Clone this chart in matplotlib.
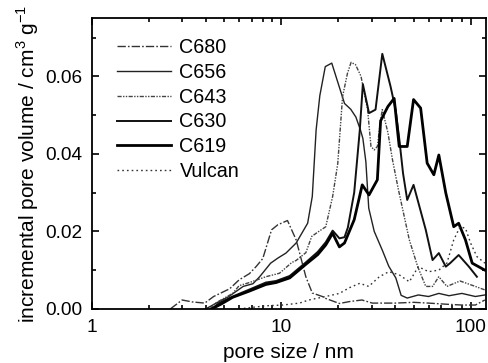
import numpy as np
import matplotlib
matplotlib.use('Agg')
from matplotlib import pyplot as plt
from matplotlib.ticker import MultipleLocator, FixedLocator, FixedFormatter, LogLocator, NullFormatter

# pore size (nm) / incremental pore volume (cm3/g)
c680_x = [2.6, 3.0, 3.4, 3.95, 4.4, 5.35, 6.0, 6.8, 7.4, 8.0, 8.9, 9.6, 10.8, 12.0, 13.5, 14.6, 16.5,
          17.2, 20.3, 23.0, 26.7, 30.3, 40.0, 50.0, 60.0, 75.0, 90.0, 106.0, 119.0]
c680_y = [0.0, 0.0023, 0.0018, 0.0015, 0.0032, 0.0052, 0.0075, 0.0091, 0.011, 0.013, 0.0204, 0.0217,
          0.0228, 0.0178, 0.0083, 0.0041, 0.0032, 0.0027, 0.0014, 0.0019, 0.0023, 0.0015, 0.0015,
          0.0017, 0.0015, 0.0012, 0.001, 0.001, 0.0023]

c656_x = [4.0, 4.7, 5.3, 6.3, 7.1, 7.7, 8.8, 9.6, 10.6, 12.0, 13.8, 14.6, 15.3, 16.0, 17.1, 18.5,
          21.6, 23.3, 24.8, 26.2, 27.0, 28.0, 29.0, 31.0, 34.3, 37.0, 40.3, 43.0, 46.3, 53.0, 60.0,
          68.0, 77.0, 90.0, 106.0, 119.0]
c656_y = [0.0, 0.0019, 0.0032, 0.0058, 0.0065, 0.0083, 0.0118, 0.0131, 0.0144, 0.017, 0.0221, 0.029,
          0.0462, 0.055, 0.0625, 0.0634, 0.053, 0.0515, 0.0495, 0.0462, 0.044, 0.038, 0.026, 0.02,
          0.015, 0.011, 0.008, 0.0035, 0.0028, 0.0036, 0.0032, 0.004, 0.0034, 0.004, 0.0032, 0.0036]

c643_x = [4.2, 4.5, 5.55, 6.0, 6.8, 8.3, 9.8, 11.4, 12.0, 13.5, 14.5, 15.6, 17.2, 18.7, 19.9, 21.1,
          22.4, 23.4, 24.7, 26.4, 27.5, 28.6, 29.8, 31.0, 32.2, 33.5, 34.2, 36.6, 38.7, 41.5, 47.5,
          52.6, 58.0, 63.0, 68.0, 75.0, 88.0, 106.0, 119.0]
c643_y = [0.0, 0.0015, 0.004, 0.006, 0.0068, 0.0083, 0.0092, 0.012, 0.0125, 0.0145, 0.0187, 0.0198,
          0.0212, 0.029, 0.0375, 0.0548, 0.0608, 0.0636, 0.063, 0.06, 0.0555, 0.0514, 0.0419, 0.041,
          0.0419, 0.0488, 0.0514, 0.0455, 0.0385, 0.031, 0.0178, 0.0109, 0.0058, 0.0058, 0.0083,
          0.0058, 0.0072, 0.0058, 0.0049]

c630_x = [4.3, 4.7, 5.55, 6.8, 8.3, 9.4, 11.1, 13.5, 15.6, 17.2, 18.7, 20.3, 21.6, 22.5, 24.3, 26.0,
          27.0, 29.1, 31.5, 34.2, 37.8, 40.2, 42.0, 44.0, 46.3, 50.0, 58.0, 63.0, 68.0, 74.0, 78.0,
          86.5, 98.0, 108.0]
c630_y = [0.0, 0.0015, 0.0032, 0.005, 0.0068, 0.0072, 0.0085, 0.012, 0.0147, 0.0172, 0.0202, 0.0182,
          0.0185, 0.021, 0.03, 0.046, 0.058, 0.0505, 0.0514, 0.0658, 0.0574, 0.0514, 0.044, 0.035,
          0.0281, 0.032, 0.0204, 0.0126, 0.0144, 0.0109, 0.0118, 0.0139, 0.0109, 0.0083]

c619_x = [4.3, 4.8, 5.55, 6.8, 8.3, 9.4, 11.1, 13.5, 15.6, 17.2, 18.7, 20.3, 21.6, 24.3, 26.8, 29.1,
          32.2, 33.5, 36.6, 39.5, 42.0, 46.3, 50.0, 54.5, 59.0, 64.0, 68.0, 74.0, 81.5, 86.5, 94.0,
          102.0, 119.0]
c619_y = [0.0, 0.0012, 0.003, 0.0046, 0.0063, 0.0068, 0.008, 0.0115, 0.014, 0.0165, 0.0195, 0.016,
          0.017, 0.023, 0.032, 0.0294, 0.0333, 0.0485, 0.0522, 0.0543, 0.0419, 0.0419, 0.054, 0.0518,
          0.0376, 0.0346, 0.0397, 0.0299, 0.0212, 0.0221, 0.0178, 0.0118, 0.010]

vulcan_x = [6.0, 8.3, 10.2, 12.5, 14.0, 17.2, 20.3, 23.0, 26.0, 29.0, 33.0, 37.0, 42.0, 47.5, 53.0,
            60.0, 68.0, 75.0, 81.5, 88.0, 94.0, 100.0, 108.0, 119.0]
vulcan_y = [0.0, 0.0008, 0.001, 0.0015, 0.0023, 0.0032, 0.004, 0.0055, 0.0066, 0.0058, 0.0083, 0.0096,
            0.0088, 0.007, 0.0109, 0.0096, 0.01, 0.0118, 0.0178, 0.0212, 0.0208, 0.017, 0.0135, 0.0118]

plt.rcParams['font.family'] = ['Liberation Sans', 'DejaVu Sans']
plt.rcParams['mathtext.fontset'] = 'custom'
plt.rcParams['mathtext.rm'] = 'Liberation Sans'

fig = plt.figure(figsize=(4.88, 3.63), dpi=100)
ax = fig.add_axes([0.188, 0.149, 0.807, 0.801])

ax.plot(c680_x, c680_y, color='#333333', lw=1.0, ls=(0, (6, 1.5, 1.2, 1.5)), label='C680')
ax.plot(c656_x, c656_y, color='#222222', lw=1.0, ls='-', label='C656')
ax.plot(c643_x, c643_y, color='#444444', lw=1.0, ls=(0, (3, 1, 1, 1, 1, 1)), label='C643')
ax.plot(c630_x, c630_y, color='#111111', lw=1.4, ls='-', label='C630')
ax.plot(c619_x, c619_y, color='#000000', lw=2.0, ls='-', label='C619')
ax.plot(vulcan_x, vulcan_y, color='#333333', lw=1.0, ls=(0, (1.2, 2.2)), label='Vulcan')

ax.set_xscale('log')
ax.set_xlim(1, 120)
ax.set_ylim(0, 0.075)
ax.xaxis.set_major_locator(FixedLocator([1, 10, 100]))
ax.xaxis.set_major_formatter(FixedFormatter(['1', '10', '100']))
ax.xaxis.set_minor_locator(LogLocator(base=10, subs=np.arange(2, 10)))
ax.xaxis.set_minor_formatter(NullFormatter())
ax.yaxis.set_major_locator(MultipleLocator(0.02))
ax.yaxis.set_minor_locator(MultipleLocator(0.01))
ax.yaxis.set_major_formatter(matplotlib.ticker.FormatStrFormatter('%.2f'))

ax.tick_params(which='both', direction='in', top=True, right=True, width=1.2)
ax.tick_params(which='major', length=5, labelsize=13.7, pad=7)
ax.tick_params(which='minor', length=3)
for s in ax.spines.values():
    s.set_linewidth(1.3)

ax.set_xlabel('pore size / nm', fontsize=15, labelpad=5)
ax.set_ylabel('incremental pore volume / cm$^3$ g$^{-1}$', fontsize=15, labelpad=3)

ax.legend(loc='upper left', frameon=False, fontsize=14.2, handlelength=2.7, handletextpad=0.45,
          labelspacing=0.3, borderaxespad=0.0, bbox_to_anchor=(0.045, 0.96))

plt.savefig('out.png', dpi=100)
